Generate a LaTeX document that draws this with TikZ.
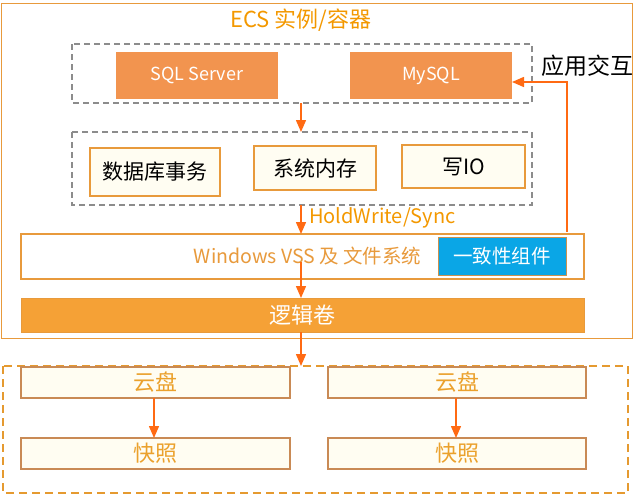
\documentclass[tikz,border=0pt]{standalone}
\usepackage{fontspec}
\setmainfont{Noto Sans CJK SC}
\usetikzlibrary{arrows.meta}
\definecolor{ecsor}{HTML}{E89A3C}
\definecolor{titleor}{HTML}{F39800}
\definecolor{dbfill}{HTML}{F2944F}
\definecolor{arr}{HTML}{FF6A13}
\definecolor{paleY}{HTML}{FFFDF2}
\definecolor{volfill}{HTML}{F5A136}
\definecolor{blueF}{HTML}{0AA6E6}
\definecolor{diskB}{HTML}{C98A55}
\definecolor{diskT}{HTML}{EBA12C}
\definecolor{dashOr}{HTML}{E59A30}
\tikzset{
  x=1pt,y=-1pt,
  box/.style={draw, inner sep=0pt, outer sep=0pt, anchor=north west},
  dbbox/.style={box, draw=none, fill=dbfill, text=white, font=\fontsize{18}{20}\selectfont},
  opbox/.style={box, draw=ecsor, line width=1.5pt, fill=paleY, font=\fontsize{21}{23}\selectfont},
  diskbox/.style={box, draw=diskB, line width=1.3pt, fill=paleY, text=diskT, font=\fontsize{22}{24}\selectfont},
  dashbox/.style={draw=gray!90, line width=1.3pt, dash pattern=on 6pt off 4pt},
  flow/.style={draw=arr, line width=1.5pt, -{Triangle[length=12pt,width=10pt]}},
}
\begin{document}
\begin{tikzpicture}
\useasboundingbox (0,0) rectangle (638,498);
% outer ECS box
\draw[ecsor, line width=1pt] (1,3) rectangle (632,338);
\node[text=titleor, font=\fontsize{22}{24}\selectfont] (title) at (301,20) {ECS 实例/容器};
% dashed group 1
\draw[dashbox] (72,44) rectangle (532,103);
\coordinate (g1b) at (301,103);
\node[dbbox, minimum width=162pt, minimum height=47pt] (sql) at (116,52) {SQL Server};
\node[dbbox, minimum width=162pt, minimum height=47pt] (mysql) at (350,52) {MySQL};
\node[font=\fontsize{23}{25}\selectfont, anchor=west] (app) at (538,66) {应用交互};
% dashed group 2
\draw[dashbox] (72,132) rectangle (532,205);
\coordinate (g2t) at (301,132);
\coordinate (g2b) at (301,205);
\node[opbox, minimum width=130pt, minimum height=48pt] (tx) at (90,148) {数据库事务};
\node[opbox, minimum width=122pt, minimum height=44pt] (mem) at (254,146) {系统内存};
\node[opbox, minimum width=123pt, minimum height=43pt] (io) at (402,145) {写IO};
\draw[flow] (g1b) -- (g2t);
% VSS
\node[box, draw=ecsor, line width=1.5pt, fill=white, minimum width=563pt, minimum height=45pt] (vss) at (21,234) {};
\node[text=ecsor, font=\fontsize{19.5}{21}\selectfont, anchor=east] (vsst) at (425,256) {Windows VSS 及 文件系统};
\node[box, draw=ecsor!70!gray, line width=1pt, fill=blueF, text=white, minimum width=128pt, minimum height=38pt, font=\fontsize{19.5}{21}\selectfont] (cons) at (438,237) {一致性组件};
\coordinate (vsst0) at (301,234);
\draw[flow] (g2b) -- (vsst0) node[pos=0.45, right=4pt, text=titleor, font=\fontsize{20}{22}\selectfont] (hw) {HoldWrite/Sync};
\coordinate (ret0) at (567,232);
\draw[flow] (ret0) |- (mysql.east |- 0,82);
% volume
\node[box, draw=ecsor, line width=1pt, fill=volfill, text=white, minimum width=563pt, minimum height=34pt, font=\fontsize{22}{24}\selectfont] (vol) at (21,298) {逻辑卷};
\coordinate (vssb) at (301,262);
\draw[flow] (vssb) -- (vol.north -| vssb);
% disks
\draw[dashOr, line width=1.5pt, dash pattern=on 8pt off 5pt] (3,366) rectangle (628,493);
\coordinate (dtop) at (301,366);
\draw[flow] (vol.south -| dtop) -- (dtop);
\node[diskbox, minimum width=269pt, minimum height=31pt] (d1) at (21,367) {云盘};
\node[diskbox, minimum width=258pt, minimum height=31pt] (d2) at (328,367) {云盘};
\node[diskbox, minimum width=269pt, minimum height=31pt] (s1) at (21,438) {快照};
\node[diskbox, minimum width=258pt, minimum height=31pt] (s2) at (328,438) {快照};
\draw[flow] (d1.south -| 154,0) -- (s1.north -| 154,0);
\draw[flow] (d2.south -| 456,0) -- (s2.north -| 456,0);
\end{tikzpicture}
\end{document}
